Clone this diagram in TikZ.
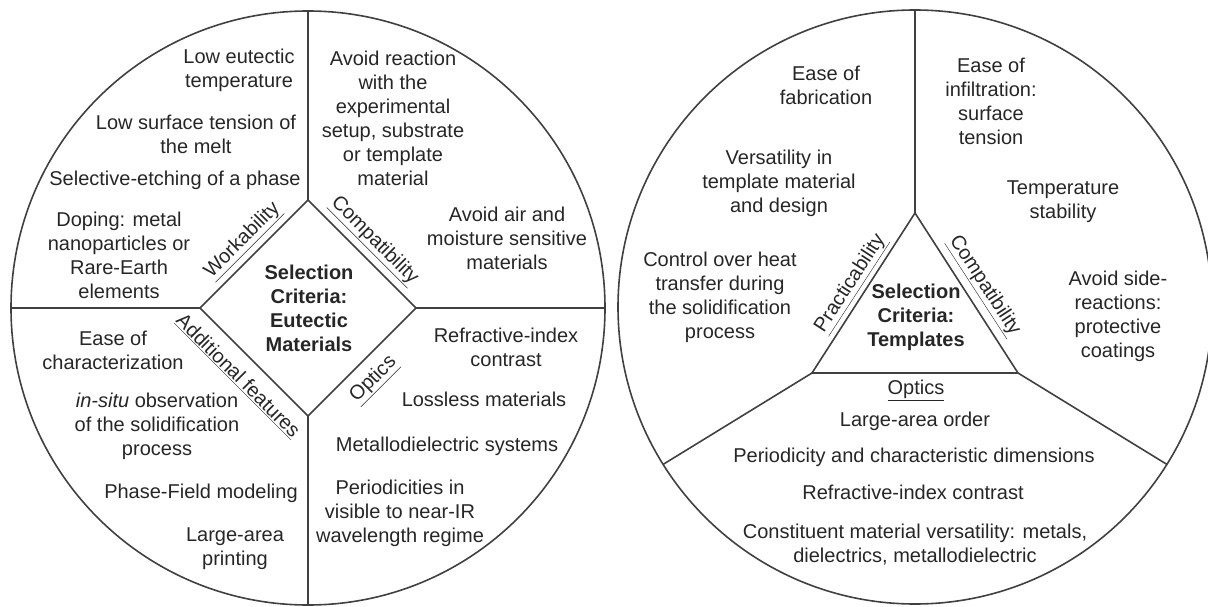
\documentclass[tikz,border=0pt]{standalone}
\usepackage{fontspec}
\setmainfont{Liberation Sans}
\tikzset{
  crit/.style={align=center, text=black!85, font=\fontsize{20}{24}\selectfont},
  hub/.style={crit, font=\fontsize{20}{24}\selectfont\bfseries},
  axis/.style={crit, inner sep=1pt},
  rim/.style={circle, draw=black!75, line width=1.6pt, minimum size=594pt, inner sep=0pt, outer sep=0pt},
}
\begin{document}
\begin{tikzpicture}[x=1pt, y=-1pt, line width=1.6pt, draw=black!75]
  \useasboundingbox (0,0) rectangle (1208,607);
  % eutectic materials wheel
  \node[rim] (lc) at (308,308) {};
  \coordinate (dt) at (308,200);
  \coordinate (dr) at (416,308);
  \coordinate (db) at (308,416);
  \coordinate (dl) at (200,308);
  \draw
    (239,70) node[crit] (w1) {Low eutectic\\temperature}
    (196,134) node[crit] (w2) {Low surface tension of\\the melt}
    (175,180) node[crit] (w3) {Selective-etching of a phase}
    (119,255) node[crit] (w4) {Doping: metal\\nanoparticles or\\Rare-Earth\\elements}
    (393,118) node[crit] (c1) {Avoid reaction\\with the\\experimental\\setup, substrate\\or template\\material}
    (507,238) node[crit] (c2) {Avoid air and\\moisture sensitive\\materials}
    (113,350) node[crit] (a1) {Ease of\\characterization}
    (157,426) node[crit] (a2) {\textit{in-situ} observation\\of the solidification\\process}
    (201,493) node[crit] (a3) {Phase-Field modeling}
    (235,549) node[crit] (a4) {Large-area\\printing}
    (506,347) node[crit] (o1) {Refractive-index\\contrast}
    (484,399) node[crit] (o2) {Lossless materials}
    (447,446) node[crit] (o3) {Metallodielectric systems}
    (400,513) node[crit] (o4) {Periodicities in\\visible to near-IR\\wavelength regime}
    (309,308) node[hub] (eut) {Selection\\Criteria:\\Eutectic\\Materials}
    (243,241) node[axis, rotate=45] (work) {\underline{Workability}}
    (374,241) node[axis, rotate=-45] (compa) {\underline{Compatibility}}
    (238,376) node[axis, rotate=-45] (addf) {\underline{Additional features}}
    (374,380) node[axis, rotate=45] (opta) {\underline{Optics}};
  \begin{scope}[-]
    \draw (dt) -- (dr) -- (db) -- (dl) -- cycle;
    \draw (dt) to (lc.north);
    \draw (dr) to (lc.east);
    \draw (db) to (lc.south);
    \draw (dl) to (lc.west);
  \end{scope}
  % templates wheel
  \node[rim] (rc) at (915,307) {};
  \coordinate (tt) at (915,213);
  \coordinate (tl) at (812,373);
  \coordinate (tr) at (1018,373);
  \draw
    (826,85) node[crit] (p1) {Ease of\\fabrication}
    (779,183) node[crit] (p2) {Versatility in\\template material\\and design}
    (720,297) node[crit] (p3) {Control over heat\\transfer during\\the solidification\\process}
    (991,101) node[crit] (k1) {Ease of\\infiltration:\\surface\\tension}
    (1063,202) node[crit] (k2) {Temperature\\stability}
    (1118,316) node[crit] (k3) {Avoid side-\\reactions:\\protective\\coatings}
    (916,390) node[crit] (optb) {\underline{Optics}}
    (915,421) node[crit] (q1) {Large-area order}
    (914,457) node[crit] (q2) {Periodicity and characteristic dimensions}
    (913,492) node[crit] (q3) {Refractive-index contrast}
    (915,545) node[crit] (q4) {Constituent material versatility: metals,\\dielectrics, metallodielectric}
    (916,317) node[hub] (tpl) {Selection\\Criteria:\\Templates}
    (851,284) node[axis, rotate=57] (prac) {\underline{Practicability}}
    (984,286) node[axis, rotate=-57] (compb) {\underline{Compatibility}};
  \begin{scope}[-]
    \draw (tt) -- (tl) -- (tr) -- cycle;
    \draw (tt) to (rc.north);
    \draw (tl) to (rc.212);
    \draw (tr) to (rc.328);
  \end{scope}
\end{tikzpicture}
\end{document}
